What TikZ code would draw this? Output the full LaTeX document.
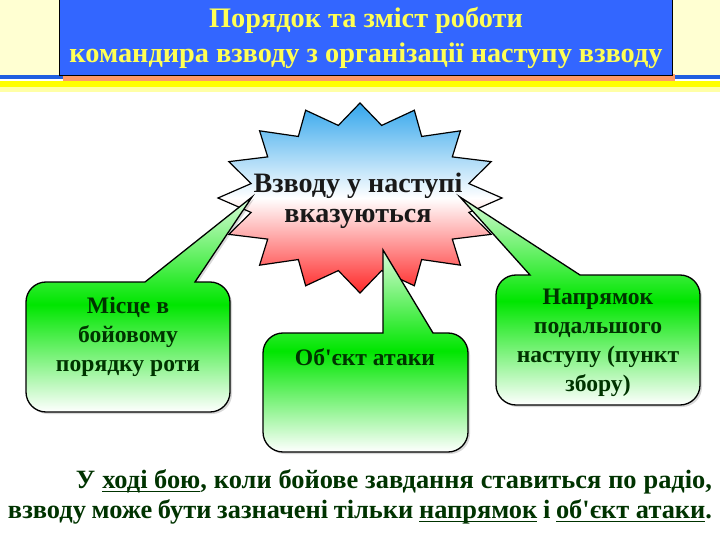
\documentclass[tikz,border=0pt]{standalone}
\usepackage{fontspec}
\setmainfont{Liberation Serif}[Ligatures=TeXOff]
\usetikzlibrary{shadows}

\definecolor{cream}{HTML}{FFFFD2}
\definecolor{stripeblue}{HTML}{1F5FE0}
\definecolor{stripeyellow}{HTML}{FFFF00}
\definecolor{titleblue}{HTML}{3366FF}
\definecolor{titleyellow}{HTML}{FFFF55}
\definecolor{shadeorange}{HTML}{FF9966}
\definecolor{starblue}{HTML}{33A6EC}
\definecolor{starred}{HTML}{FF2828}
\definecolor{boxgreen}{HTML}{00E600}
\definecolor{darkgreen}{HTML}{003300}

\newsavebox\ulbox
\newcommand\undl[1]{\sbox\ulbox{#1}\rlap{\rule[-3.5bp]{\wd\ulbox}{1.2bp}}\usebox\ulbox}

\begin{document}
\begin{tikzpicture}[x=1bp, y=-1bp,
    titlebox/.style={draw=black, line width=1bp, fill=titleblue, minimum width=612bp, minimum height=76bp, inner sep=0pt, align=center, text=titleyellow, font=\fontsize{28.4}{35}\selectfont\bfseries},
    starshape/.style={draw=black, line width=1.2bp, top color=starblue, bottom color=starred, middle color=white},
    callout/.style={draw=black, line width=1.3bp, top color=boxgreen!15, bottom color=white, middle color=boxgreen, drop shadow={shadow xshift=2bp, shadow yshift=-2bp, fill=black, opacity=0.15}},
    startext/.style={align=center, text=black!90, font=\fontsize{28.2}{30}\selectfont\bfseries},
    boxtext/.style={align=center, text=darkgreen, font=\fontsize{23.7}{29}\selectfont\bfseries},
    notetext/.style={align=left, inner sep=0pt, text=darkgreen, font=\fontsize{26.5}{30}\selectfont\bfseries}
  ]
  \useasboundingbox (0,0) rectangle (720,540);

  % background band and stripes
  \fill[cream] (0,0) rectangle (720,75);
  \fill[stripeblue] (0,75) rectangle (720,79);
  \fill[stripeyellow] (0,81) rectangle (720,87);
  \fill[stripeyellow!35] (0,87) rectangle (720,92);

  % title
  \fill[shadeorange] (63,74) rectangle (675,81);
  \node[titlebox] (title) at (366,38) {Порядок та зміст роботи\\командира взводу з організації наступу взводу};

  % star
  \draw[starshape] plot[samples at={0,...,31}, variable=\k]
    ({360+ifthenelse(mod(\k,2)==0,142,111)*cos(90+11.25*\k)},
     {198-ifthenelse(mod(\k,2)==0,95,74)*sin(90+11.25*\k)}) -- cycle;
  \node[startext] (star) at (358,201) {Взводу у наступі\\вказуються};

  % pointer tips
  \coordinate (tipA) at (252,197);
  \coordinate (tipB) at (383,250);
  \coordinate (tipC) at (460,197);

  % left callout
  \draw[callout] (26,347) [rounded corners=20bp] -- (26,282) [sharp corners] -- (145,282) -- (tipA) -- (195,282)
    [rounded corners=20bp] -- (230,282) -- (230,412) -- (26,412) -- cycle;
  \node[boxtext] (place) at (128,337) {Місце в\\бойовому\\порядку роти};

  % middle callout
  \draw[callout] (263,392) [rounded corners=20bp] -- (263,333) [sharp corners] -- (383,333) -- (tipB) -- (433,333)
    [rounded corners=20bp] -- (468,333) -- (468,452) -- (263,452) -- cycle;
  \node[boxtext] (target) at (365,357) {Об'єкт атаки};

  % right callout
  \draw[callout] (496,340) [rounded corners=20bp] -- (496,275) [sharp corners] -- (530,275) -- (tipC) -- (580,275)
    [rounded corners=20bp] -- (700,275) -- (700,405) -- (496,405) -- cycle;
  \node[boxtext] (direction) at (598,343) {Напрямок\\подальшого\\наступу (пункт\\збору)};

  % note at the bottom
  \node[notetext] (note) at (360,497) {\makebox[704bp][s]{\hspace*{68bp}У \undl{ході бою}, коли бойове завдання ставиться по радіо,}\\
    \makebox[704bp][s]{взводу може бути зазначені тільки \undl{напрямок} і \undl{об'єкт атаки}.}};
\end{tikzpicture}
\end{document}
